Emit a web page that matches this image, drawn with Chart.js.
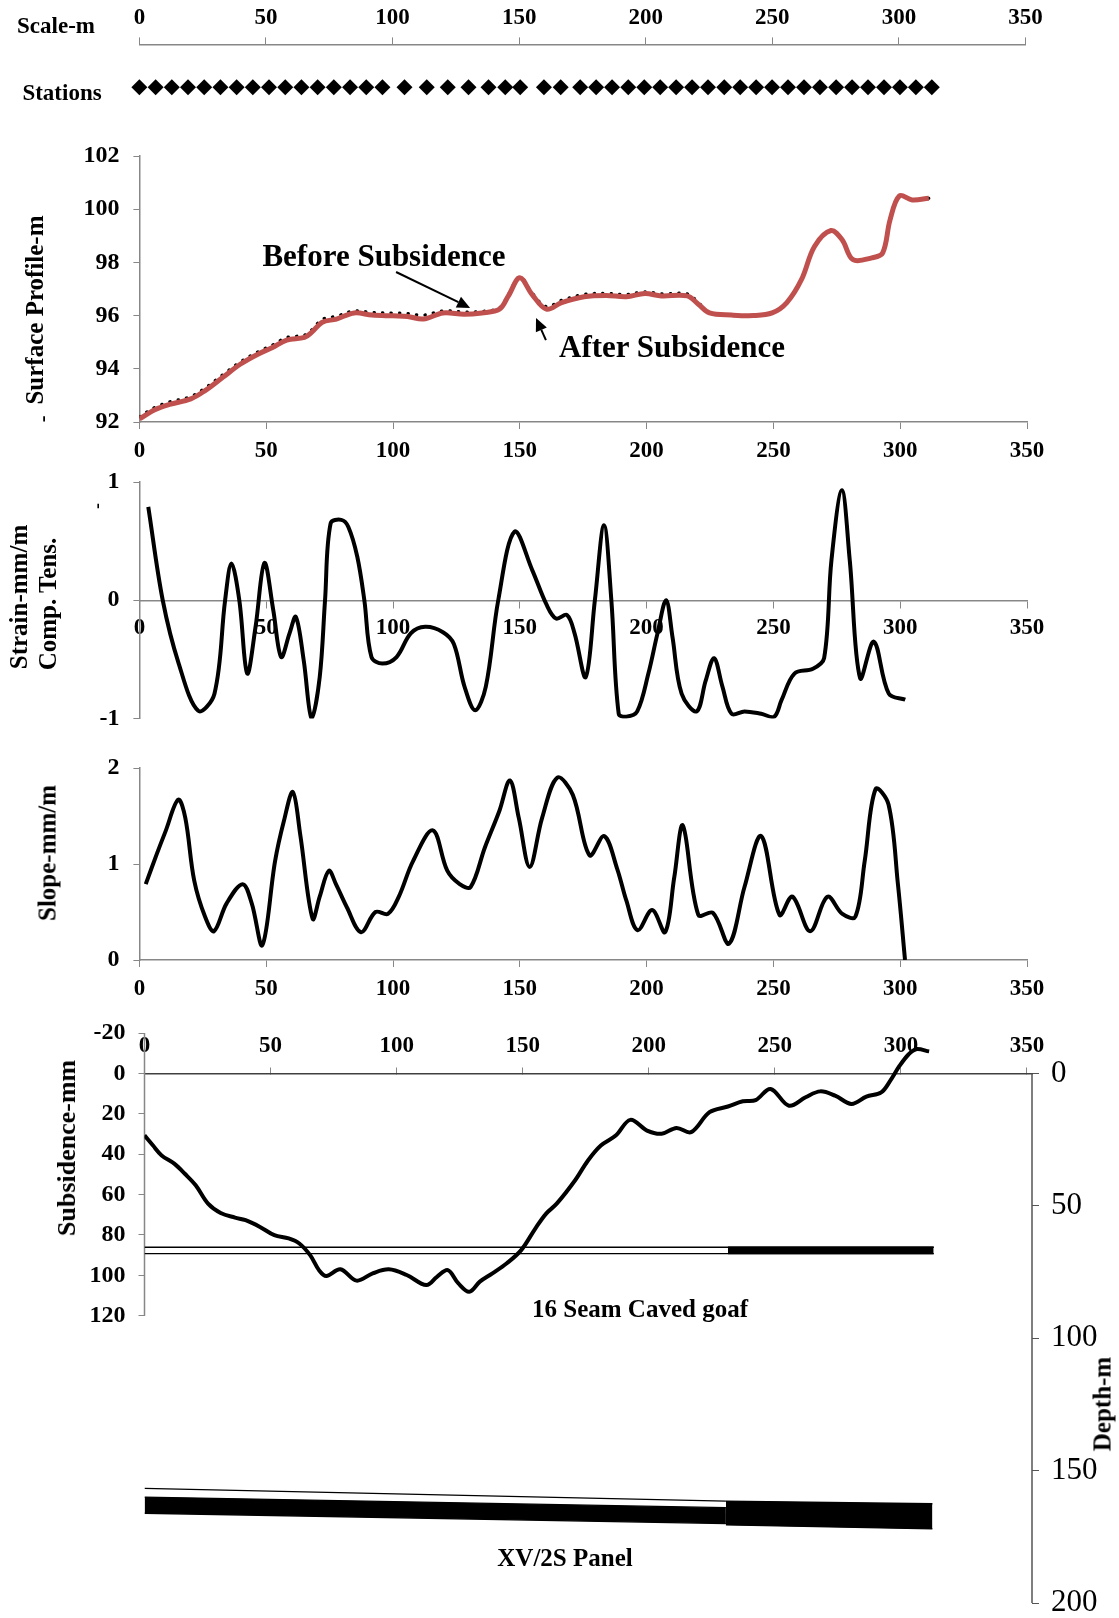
<!DOCTYPE html>
<html>
<head>
<meta charset="utf-8">
<title>Subsidence profile</title>
<script src="https://cdn.jsdelivr.net/npm/chart.js@4.4.1/dist/chart.umd.min.js"></script>
<style>
  html, body { margin: 0; padding: 0; background: #fff; }
  #page { position: relative; width: 1119px; height: 1618px; overflow: hidden;
          font-family: "Liberation Serif", "Times New Roman", serif; color: #000; }
  #page canvas { position: absolute; left: 0; }
  .lbl { position: absolute; font-weight: bold; white-space: nowrap; line-height: 1;
         transform: translate(-50%, -50%); }
  .rot { transform: translate(-50%, -50%) rotate(-90deg); }
</style>
</head>
<body>
<div id="page">
  <canvas id="scaleChart" width="1119" height="130" style="top:0px"></canvas>
  <canvas id="profileChart" width="1119" height="364" style="top:116px"></canvas>
  <canvas id="strainChart" width="1119" height="317" style="top:442px"></canvas>
  <canvas id="slopeChart" width="1119" height="282" style="top:728px"></canvas>
  <canvas id="subsChart" width="1119" height="650" style="top:993px"></canvas>

  <div class="lbl" style="left:56px;top:25px;font-size:23px">Scale-m</div>
  <div class="lbl" style="left:62px;top:92px;font-size:23px">Stations</div>
  <div class="lbl rot" style="left:34px;top:310px;font-size:25px">Surface Profile-m</div>
  <div class="lbl rot" style="left:42px;top:419px;font-size:20px">-</div>
  <div class="lbl rot" style="left:17.5px;top:597px;font-size:25px">Strain-mm/m</div>
  <div class="lbl rot" style="left:46.5px;top:604px;font-size:25px">Comp. Tens.</div>
  <div class="lbl rot" style="left:97px;top:506px;font-size:18px">-</div>
  <div class="lbl rot" style="left:46.5px;top:853px;font-size:25px">Slope-mm/m</div>
  <div class="lbl rot" style="left:67px;top:1148px;font-size:26px">Subsidence-mm</div>
  <div class="lbl rot" style="left:1102px;top:1404px;font-size:25px">Depth-m</div>
  <div class="lbl" style="left:384px;top:255px;font-size:31px">Before Subsidence</div>
  <div class="lbl" style="left:672px;top:346px;font-size:31px">After Subsidence</div>
  <div class="lbl" style="left:640px;top:1308px;font-size:25px">16 Seam Caved goaf</div>
  <div class="lbl" style="left:565px;top:1557px;font-size:25px">XV/2S Panel</div>
</div>

<script>
// ---- values (distance along survey line, m) ----
const distTicks = [0, 50, 100, 150, 200, 250, 300, 350];
const profileTicks = [92, 94, 96, 98, 100, 102];
const strainTicks = [-1, 0, 1];
const slopeTicks = [0, 1, 2];
const subsTicks = [-20, 0, 20, 40, 60, 80, 100, 120];
const depthTicks = [0, 50, 100, 150, 200];

const stationPos = [0, 6.4, 12.8, 19.2, 25.6, 32, 38.4, 44.8, 51.2, 57.6, 64, 70.4, 76.8, 83.2, 89.6, 96,
    104.7, 113.5, 121.8, 130, 137.9, 144.5, 150.4, 159.8, 166.4, 174.1, 180.4, 186.7, 193.1, 199.4,
    205.7, 212, 218.3, 224.6, 231, 237.3, 243.6, 249.9, 256.2, 262.5, 268.8, 275.2, 281.5, 287.8,
    294.1, 300.4, 306.7, 313];

const profileX = [0, 6.3, 11.9, 20.3, 25.9, 32.9, 39.9, 46.9, 52.5, 58.1, 65.1, 67.9, 72.1, 77.7, 84.7,
    91.7, 100, 105.7, 112, 119.7, 128, 135, 142, 145.5, 150, 154.8, 160.5, 166.5, 175.3, 184, 192,
    199.3, 205.8, 216, 220.4, 224.8, 233.5, 242.2, 249.5, 255.3, 261.1, 266.2, 272.7, 277.1, 281.4,
    288.8, 293.1, 296, 299.7, 304.7, 311.3];
const profileAfter = [92.12, 92.47, 92.66, 92.87, 93.18, 93.68, 94.18, 94.56, 94.8, 95.08, 95.18, 95.37,
    95.75, 95.87, 96.1, 96.02, 95.99, 95.97, 95.87, 96.1, 96.05, 96.1, 96.24, 96.74, 97.42, 96.8, 96.24,
    96.49, 96.71, 96.76, 96.71, 96.83, 96.74, 96.74, 96.43, 96.1, 96.02, 96.0, 96.1, 96.49, 97.36,
    98.6, 99.2, 98.85, 98.1, 98.17, 98.36, 99.6, 100.5, 100.35, 100.41];
const profileBefore = [92.2, 92.56, 92.76, 92.96, 93.28, 93.78, 94.27, 94.65, 94.9, 95.18, 95.27, 95.46,
    95.86, 95.98, 96.18, 96.12, 96.1, 96.08, 96.02, 96.18, 96.14, 96.16, 96.3, 96.8, 97.46, 96.86, 96.34,
    96.58, 96.8, 96.84, 96.8, 96.9, 96.82, 96.82, 96.5, 96.1, 96.02, 96.0, 96.1, 96.49, 97.36,
    98.6, 99.2, 98.85, 98.1, 98.17, 98.36, 99.6, 100.5, 100.35, 100.41];

const strainX = [3.5, 9.2, 15.5, 23.2, 29.6, 33.8, 36.3, 39.4, 42.5, 45.8, 49.3, 52.8, 55.9, 59.2, 61.7,
    64.8, 67.9, 71.1, 73.2, 75.4, 79.6, 82.4, 85.9, 88.7, 91.5, 95.8, 101.4, 107, 112.7, 119.7, 124,
    128.2, 132.4, 136.6, 141.5, 147.9, 154.9, 160.6, 164.3, 168.6, 171.6, 176, 179.6, 183.2, 186.1,
    189, 192, 196.3, 200.7, 204.3, 207.7, 210.2, 213.8, 219.7, 223.3, 226.6, 229.9, 233.5, 238.6,
    245.2, 250.3, 253.2, 258.3, 265.6, 270, 272.9, 277, 280.1, 284.2, 289.6, 295.5, 302];
const strainVals = [0.79, 0, -0.535, -0.935, -0.79, 0, 0.31, 0, -0.62, -0.225, 0.315, -0.085, -0.48,
    -0.28, -0.14, -0.51, -1.0, -0.65, 0, 0.65, 0.68, 0.62, 0.37, 0, -0.48, -0.535, -0.48, -0.28, -0.225,
    -0.27, -0.37, -0.73, -0.93, -0.73, 0, 0.58, 0.255, -0.04, -0.155, -0.125, -0.28, -0.65, 0, 0.635,
    0, -0.96, -0.985, -0.94, -0.62, -0.28, 0, -0.31, -0.79, -0.94, -0.68, -0.49, -0.73, -0.96, -0.94,
    -0.96, -0.985, -0.845, -0.62, -0.58, -0.49, 0.34, 0.93, 0.34, -0.66, -0.35, -0.79, -0.84];

const slopeX = [2.5, 6.8, 10.3, 15.3, 18.1, 21.6, 25.9, 29.4, 34.4, 40.7, 44.3, 48.5, 53.5, 57, 60.5,
    63.4, 68.3, 71.1, 74.7, 77.5, 81.8, 87.4, 93.1, 98, 102.3, 107.9, 115.7, 121.4, 126.3, 130.6, 136.2,
    141.9, 146.1, 149.6, 153.9, 158.8, 164.8, 170.9, 177.5, 183.3, 188.4, 192, 196.4, 202.2, 207.3,
    210.9, 214.3, 220.4, 226.2, 232.5, 238.6, 245.2, 252.4, 257.5, 264.5, 271.3, 277.2, 282.3, 286,
    290.3, 295.4, 299.1, 301.9];
const slopeVals = [0.79, 1.1, 1.34, 1.67, 1.48, 0.83, 0.45, 0.3, 0.59, 0.79, 0.59, 0.155, 1.03, 1.45,
    1.75, 1.31, 0.43, 0.66, 0.93, 0.79, 0.55, 0.29, 0.5, 0.48, 0.66, 1.03, 1.35, 0.93, 0.79, 0.76, 1.17,
    1.55, 1.87, 1.48, 0.97, 1.48, 1.9, 1.72, 1.09, 1.29, 0.95, 0.62, 0.31, 0.52, 0.29, 0.86, 1.4, 0.47,
    0.49, 0.17, 0.76, 1.29, 0.47, 0.66, 0.3, 0.66, 0.48, 0.45, 1.03, 1.78, 1.62, 0.79, 0];

const subsX = [0, 3.3, 6.8, 11.8, 16, 20.3, 25.2, 30.2, 35.9, 40.1, 45.8, 51.5, 57.2, 61.4, 65.7, 69.2,
    72.1, 77.7, 84.1, 90.5, 96.9, 104, 111.8, 116, 120.3, 124.5, 128.8, 133, 138, 143.7, 149.4, 155,
    159.3, 163.5, 170.8, 175.9, 181, 186.9, 192.7, 199.3, 205.1, 211, 216.8, 224.1, 231.4, 237.3,
    242.4, 248.3, 255.6, 262.2, 268, 273.9, 280.4, 286.3, 292.2, 295.8, 299.5, 303.1, 306.1, 311.2];
const subsVals = [30.7, 35.6, 40.6, 44.7, 49.7, 55.4, 64.5, 69.1, 71.4, 72.7, 76, 80.1, 81.7, 84.2, 90,
    97.4, 100.3, 97, 102.6, 99, 97, 99.8, 104.8, 100.7, 97.4, 104, 108.1, 103.1, 99, 94, 87.5, 76.8,
    69.4, 64.5, 52.9, 43.1, 35.7, 30.8, 23, 28.3, 29.9, 27, 29.1, 19.2, 16.4, 13.8, 13.2, 7.7, 16,
    11.8, 8.9, 11, 15.1, 11.5, 9.4, 3.6, -3.8, -9.5, -12, -10.9];

// seams, depth in m
const seam16X = [0, 313];
const seam16Roof = [65.6, 65.6];
const seam16Floor = [68.0, 68.0];
const seam16SolidX = [231.4, 313];
const xvX = [0, 230.6];
const xvRoof = [156.7, 161.5];
const xvBandTop = [160.0, 164.0];
const xvBandBottom = [166.1, 170.0];
const xvSolidX = [230.6, 312.5];
const xvSolidTop = [161.5, 162.5];
const xvSolidBottom = [170.5, 172.0];

// annotation arrows on the profile panel: [x, elevation]
const profileArrows = [
    { from: [101.2, 97.64], to: [130.4, 96.29] },
    { from: [160.3, 95.08], to: [156.4, 95.91] }
];

const AXIS_GREY = '#878787';
const SERIF = '"Liberation Serif", "Times New Roman", serif';

const pts = (xs, ys) => xs.map((x, i) => ({ x, y: ys[i] }));
const fixTicks = values => scale => { scale.ticks = values.map(v => ({ value: v })); };
const fixWidth = w => scale => { scale.width = w; };
const fixHeight = h => scale => { scale.height = h; };

function distAxis(extra) {
    return Object.assign({
        type: 'linear', axis: 'x', min: 0, max: 350,
        afterBuildTicks: fixTicks(distTicks),
        grid: { drawOnChartArea: false, tickLength: 7, color: AXIS_GREY },
        border: { color: AXIS_GREY, width: 1.5 },
        ticks: { padding: 8, font: { size: 23 } }
    }, extra);
}

function valueAxis(min, max, values, extra) {
    return Object.assign({
        type: 'linear', axis: 'y', position: 'left', min, max,
        afterBuildTicks: fixTicks(values),
        afterFit: fixWidth(139.4),
        grid: { drawOnChartArea: false, tickLength: 6, color: AXIS_GREY },
        border: { color: AXIS_GREY, width: 1.5 },
        ticks: { padding: 14, font: { size: 24 } }
    }, extra);
}

// padding is kept larger than the tick label overhang so the plot area lands where we want it
function baseOptions(padding) {
    return {
        responsive: false,
        animation: false,
        devicePixelRatio: 1,
        layout: { padding, autoPadding: false },
        plugins: { legend: { display: false }, tooltip: { enabled: false } }
    };
}

const blackLine = (xs, ys, extra) => Object.assign({
    data: pts(xs, ys), borderColor: '#000', borderWidth: 4, tension: 0.35, pointRadius: 0
}, extra);

// arrows pointing at the two profile curves
const arrowPlugin = {
    id: 'arrows',
    afterDatasetsDraw(chart) {
        const { ctx, scales: { x, y } } = chart;
        ctx.save();
        ctx.strokeStyle = '#000';
        ctx.fillStyle = '#000';
        ctx.lineWidth = 2;
        profileArrows.forEach(a => {
            const x0 = x.getPixelForValue(a.from[0]), y0 = y.getPixelForValue(a.from[1]);
            const x1 = x.getPixelForValue(a.to[0]), y1 = y.getPixelForValue(a.to[1]);
            const ang = Math.atan2(y1 - y0, x1 - x0);
            const head = 13, half = 6;
            const bx = x1 - head * Math.cos(ang), by = y1 - head * Math.sin(ang);
            ctx.beginPath();
            ctx.moveTo(x0, y0);
            ctx.lineTo(bx, by);
            ctx.stroke();
            ctx.beginPath();
            ctx.moveTo(x1, y1);
            ctx.lineTo(bx + half * Math.sin(ang), by - half * Math.cos(ang));
            ctx.lineTo(bx - half * Math.sin(ang), by + half * Math.cos(ang));
            ctx.closePath();
            ctx.fill();
        });
        ctx.restore();
    }
};

// left and right axis lines only cover their own tick range
const partialBorders = {
    id: 'partialBorders',
    beforeDatasetsDraw(chart) {
        const { ctx, chartArea, scales } = chart;
        ctx.save();
        ctx.lineWidth = 1.5;
        ctx.strokeStyle = AXIS_GREY;
        ctx.beginPath();
        ctx.moveTo(chartArea.left, scales.subs.getPixelForValue(subsTicks[0]));
        ctx.lineTo(chartArea.left, scales.subs.getPixelForValue(subsTicks[subsTicks.length - 1]));
        ctx.stroke();
        ctx.strokeStyle = '#555';
        ctx.beginPath();
        ctx.moveTo(chartArea.right, scales.depth.getPixelForValue(depthTicks[0]));
        ctx.lineTo(chartArea.right, scales.depth.getPixelForValue(depthTicks[depthTicks.length - 1]));
        ctx.stroke();
        ctx.restore();
    }
};

class SubsidenceFigure {
    constructor() {
        this.charts = [];
        this.init();
    }

    init() {
        Chart.defaults.font.family = SERIF;
        Chart.defaults.font.weight = 'bold';
        Chart.defaults.color = '#000';
        this.charts.push(this.createScaleChart());
        this.charts.push(this.createProfileChart());
        this.charts.push(this.createStrainChart());
        this.charts.push(this.createSlopeChart());
        this.charts.push(this.createSubsidenceChart());
    }

    createScaleChart() {
        return new Chart(document.getElementById('scaleChart'), {
            type: 'line',
            data: {
                datasets: [{
                    data: stationPos.map(x => ({ x, y: 0.5 })),
                    showLine: false, clip: false,
                    pointStyle: 'rectRot', pointRadius: 8, pointBorderWidth: 0,
                    pointBackgroundColor: '#000'
                }]
            },
            options: Object.assign(baseOptions({ left: 139.4, right: 93.5, top: 0, bottom: 0 }), {
                scales: {
                    x: distAxis({ position: 'top', afterFit: fixHeight(44.4), ticks: { padding: 6, font: { size: 23 } } }),
                    y: { display: false, min: 0, max: 1 }
                }
            })
        });
    }

    createProfileChart() {
        return new Chart(document.getElementById('profileChart'), {
            type: 'line',
            data: {
                datasets: [
                    { data: pts(profileX, profileAfter), borderColor: '#C0504D', borderWidth: 5, tension: 0.35, pointRadius: 0 },
                    { data: pts(profileX, profileBefore), borderColor: '#000', borderWidth: 3, tension: 0.35, pointRadius: 0,
                      borderDash: [0.5, 8], borderCapStyle: 'round' }
                ]
            },
            options: Object.assign(baseOptions({ left: 0, right: 92, top: 40, bottom: 0 }), {
                scales: {
                    x: distAxis({ position: 'bottom', afterFit: fixHeight(58) }),
                    y: valueAxis(92, 102, profileTicks)
                }
            }),
            plugins: [arrowPlugin]
        });
    }

    createStrainChart() {
        return new Chart(document.getElementById('strainChart'), {
            type: 'line',
            data: { datasets: [blackLine(strainX, strainVals)] },
            options: Object.assign(baseOptions({ left: 0, right: 92, top: 40, bottom: 40.5 }), {
                scales: {
                    x: distAxis({ position: { y: 0 }, ticks: { padding: 7, font: { size: 23 } } }),
                    y: valueAxis(-1, 1, strainTicks)
                }
            })
        });
    }

    createSlopeChart() {
        return new Chart(document.getElementById('slopeChart'), {
            type: 'line',
            data: { datasets: [blackLine(slopeX, slopeVals)] },
            options: Object.assign(baseOptions({ left: 0, right: 92, top: 40, bottom: 0 }), {
                scales: {
                    x: distAxis({ position: 'bottom', afterFit: fixHeight(50) }),
                    y: valueAxis(0, 2, slopeTicks)
                }
            })
        });
    }

    createSubsidenceChart() {
        const thin = { borderColor: '#000', borderWidth: 1.3, tension: 0, pointRadius: 0, yAxisID: 'depth' };
        const solid = Object.assign({}, thin, { fill: '+1', backgroundColor: '#000' });
        return new Chart(document.getElementById('subsChart'), {
            type: 'line',
            data: {
                datasets: [
                    blackLine(subsX, subsVals, { yAxisID: 'subs' }),
                    Object.assign({ data: pts(seam16X, seam16Roof) }, thin),
                    Object.assign({ data: pts(seam16X, seam16Floor) }, thin),
                    Object.assign({ data: pts(seam16SolidX, seam16Roof) }, solid),
                    Object.assign({ data: pts(seam16SolidX, seam16Floor) }, thin),
                    Object.assign({ data: pts(xvX, xvRoof) }, thin),
                    Object.assign({ data: pts(xvX, xvBandTop) }, solid),
                    Object.assign({ data: pts(xvX, xvBandBottom) }, thin),
                    Object.assign({ data: pts(xvSolidX, xvSolidTop) }, solid),
                    Object.assign({ data: pts(xvSolidX, xvSolidBottom) }, thin)
                ]
            },
            options: Object.assign(baseOptions({ left: 0, right: 0, top: 40, bottom: 40 }), {
                scales: {
                    x: distAxis({
                        max: 352, position: { subs: 0 },
                        grid: { drawOnChartArea: false, tickLength: -7, color: AXIS_GREY },
                        border: { color: '#404040', width: 1.5 },
                        ticks: { padding: -34.4, font: { size: 23 } }
                    }),
                    subs: valueAxis(-20, 262.2, subsTicks, {
                        reverse: true,
                        afterFit: fixWidth(144.5),
                        border: { display: false },
                        ticks: { padding: 13, font: { size: 24 } }
                    }),
                    depth: {
                        type: 'linear', axis: 'y', position: 'right', min: -15.34, max: 200, reverse: true,
                        afterBuildTicks: fixTicks(depthTicks),
                        afterFit: fixWidth(87),
                        grid: { drawOnChartArea: false, tickLength: 7, color: '#555' },
                        border: { display: false },
                        ticks: { padding: 12, font: { size: 31, weight: 'normal' } }
                    }
                }
            }),
            plugins: [partialBorders]
        });
    }
}

document.addEventListener('DOMContentLoaded', () => {
    new SubsidenceFigure();
});
</script>
</body>
</html>
